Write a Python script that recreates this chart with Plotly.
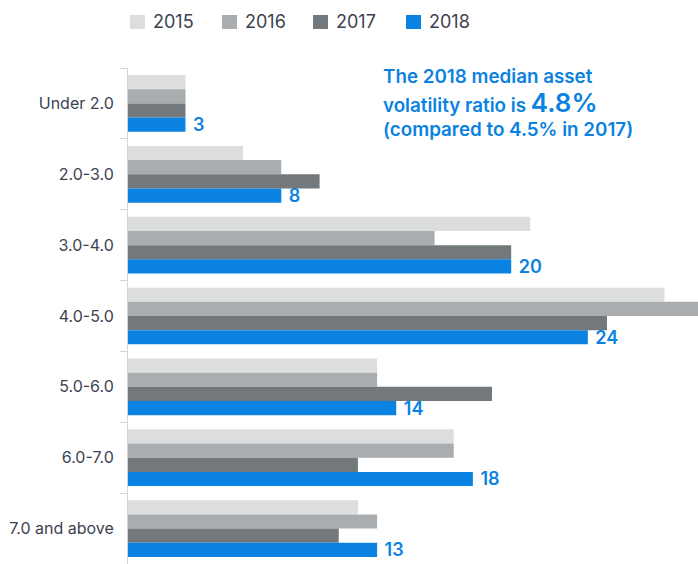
import plotly.graph_objects as go

# Share of companies by asset volatility ratio band (%)
categories = ["Under 2.0", "2.0-3.0", "3.0-4.0", "4.0-5.0", "5.0-6.0", "6.0-7.0", "7.0 and above"]
years = ["2015", "2016", "2017", "2018"]
values_2015 = [3, 6, 21, 28, 13, 17, 12]
values_2016 = [3, 8, 16, 30, 13, 17, 13]
values_2017 = [3, 10, 20, 25, 19, 12, 11]
values_2018 = [3, 8, 20, 24, 14, 18, 13]

colors = ["#dcdedd", "#a9adaf", "#72787b", "#0a82e2"]
series = [values_2015, values_2016, values_2017, values_2018]

W, H = 698, 564
ML, MR, MT, MB = 128, 0, 68, 0
PW, PH = W - ML - MR, H - MT - MB
FONT = "Inter, Roboto, sans-serif"
TEXT_COLOR = "#3c4250"


def px_x(px):
    return (px - ML) / PW


def px_y(py):
    return 1 - (py - MT) / PH


fig = go.Figure()
for year, vals, col in zip(years, series, colors):
    is_last = year == years[-1]
    fig.add_trace(go.Bar(
        y=categories, x=vals, orientation="h", name=year,
        marker=dict(color=col, line=dict(width=0)),
        text=[" " + str(v) for v in vals] if is_last else None,
        textposition="outside" if is_last else "none",
        constraintext="none",
        textfont=dict(family=FONT, size=18, color=col, weight=600),
        cliponaxis=False,
        showlegend=False,
    ))

# Legend row drawn along the top
legend_x = [130, 222, 313, 406]
for year, col, lx in zip(years, colors, legend_x):
    fig.add_shape(type="rect", xref="paper", yref="paper",
                  x0=px_x(lx), x1=px_x(lx + 15), y0=px_y(29), y1=px_y(15),
                  fillcolor=col, line=dict(width=0))
    fig.add_annotation(xref="paper", yref="paper", x=px_x(lx + 21), y=px_y(22),
                       text=year, showarrow=False, xanchor="left", yanchor="middle",
                       font=dict(family=FONT, size=18, color=TEXT_COLOR))

# Callout text
blue = "#0a82e2"
callout = [
    (76, "The 2018 median asset"),
    (102, "volatility ratio is <span style='font-size:26px'>4.8%</span>"),
    (129, "(compared to 4.5% in 2017)"),
]
for cy, txt in callout:
    fig.add_annotation(xref="paper", yref="paper", x=px_x(381), y=px_y(cy),
                       text=txt, showarrow=False, xanchor="left", yanchor="middle",
                       font=dict(family=FONT, size=18.8, color=blue, weight=600))

fig.update_layout(
    width=W, height=H,
    margin=dict(l=ML, r=MR, t=MT, b=MB, pad=0),
    barmode="group", bargap=0.2, bargroupgap=0,
    plot_bgcolor="white", paper_bgcolor="white",
    font=dict(family=FONT, color=TEXT_COLOR),
    xaxis=dict(range=[0, 29.75], visible=False, fixedrange=True),
    yaxis=dict(
        type="category", autorange="reversed",
        showline=True, linecolor="#d4d6d8", linewidth=1,
        ticks="outside", tickson="boundaries", ticklen=7, tickcolor="#d4d6d8",
        ticklabelstandoff=10,
        showgrid=False, zeroline=False,
        tickfont=dict(family=FONT, size=16, color=TEXT_COLOR),
    ),
    showlegend=False,
)

fig.write_html("out.html")
